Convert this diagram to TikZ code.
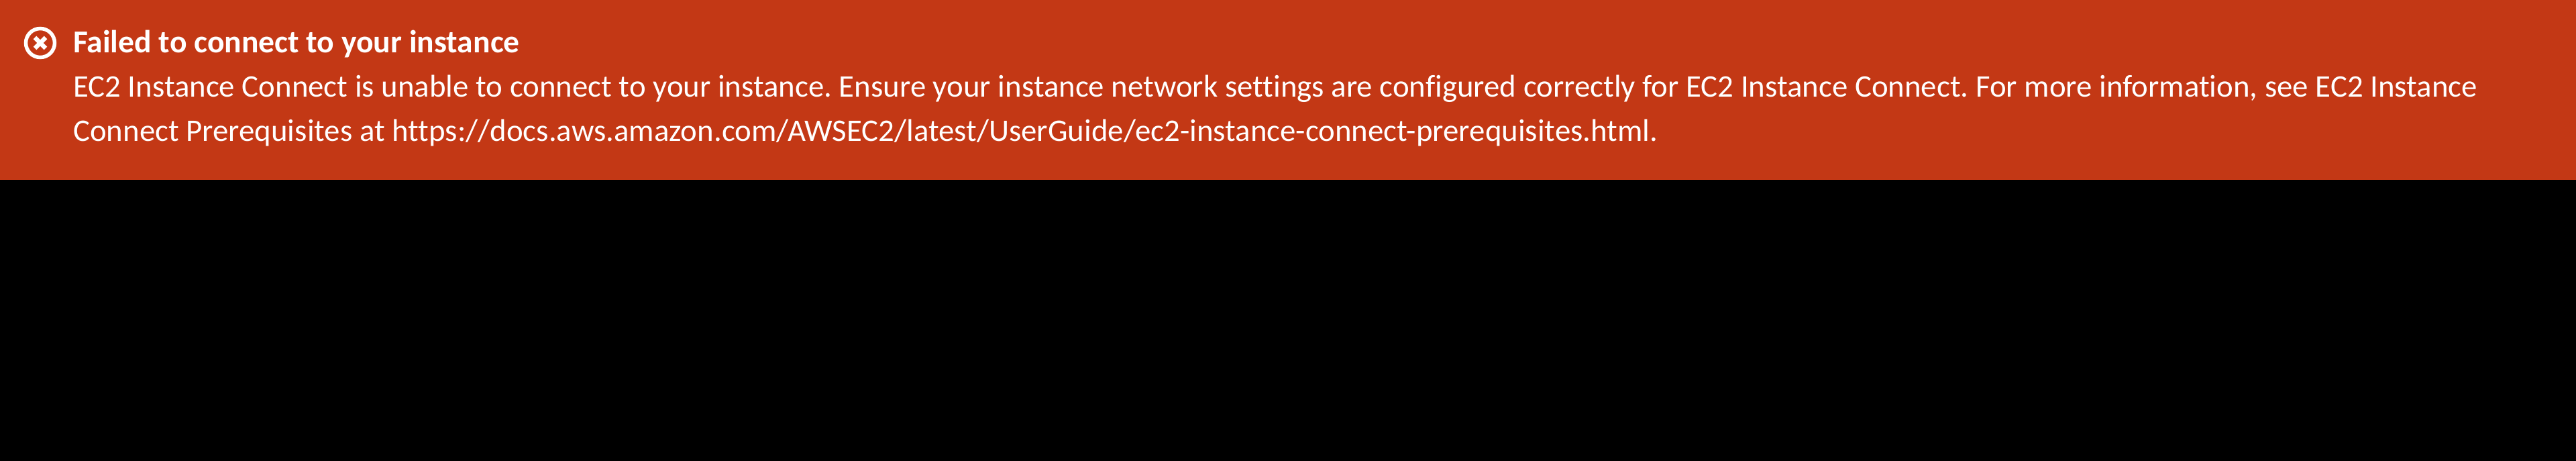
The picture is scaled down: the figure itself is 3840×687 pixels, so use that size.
\documentclass[tikz,border=0pt]{standalone}
\usepackage{fontspec}
\setmainfont{Carlito}[Ligatures=NoCommon]
\frenchspacing
\definecolor{banner}{RGB}{195,56,21}
\tikzset{
  bodytext/.style={anchor=base west,inner sep=0pt,text=white,font=\fontsize{46.84}{55}\selectfont\frenchspacing},
  titletext/.style={anchor=base west,inner sep=0pt,text=white,font=\fontsize{47.6}{55}\selectfont\bfseries}
}
\begin{document}
\begin{tikzpicture}[x=1pt,y=-1pt]
\useasboundingbox (0,0) rectangle (3840,687);
\fill[black] (0,0) rectangle (3840,687);
\fill[banner] (0,0) rectangle (3840,268);
\draw[white,line width=5.5pt] (60,64) circle (21.5);
\draw[white,line width=6.5pt] (52,56) -- (68,72) (68,56) -- (52,72);
\node[titletext] (title) at (109,79) {Failed to connect to your instance};
\node[bodytext] (l1) at (109,145) {EC2 Instance Connect is unable to connect to your instance. Ensure your instance network settings are configured correctly for EC2 Instance Connect. For more information, see EC2 Instance};
\node[bodytext] (l2) at (109,211) {Connect Prerequisites at https://docs.aws.amazon.com/AWSEC2/latest/UserGuide/ec2-instance-connect-prerequisites.html.};
\end{tikzpicture}
\end{document}
